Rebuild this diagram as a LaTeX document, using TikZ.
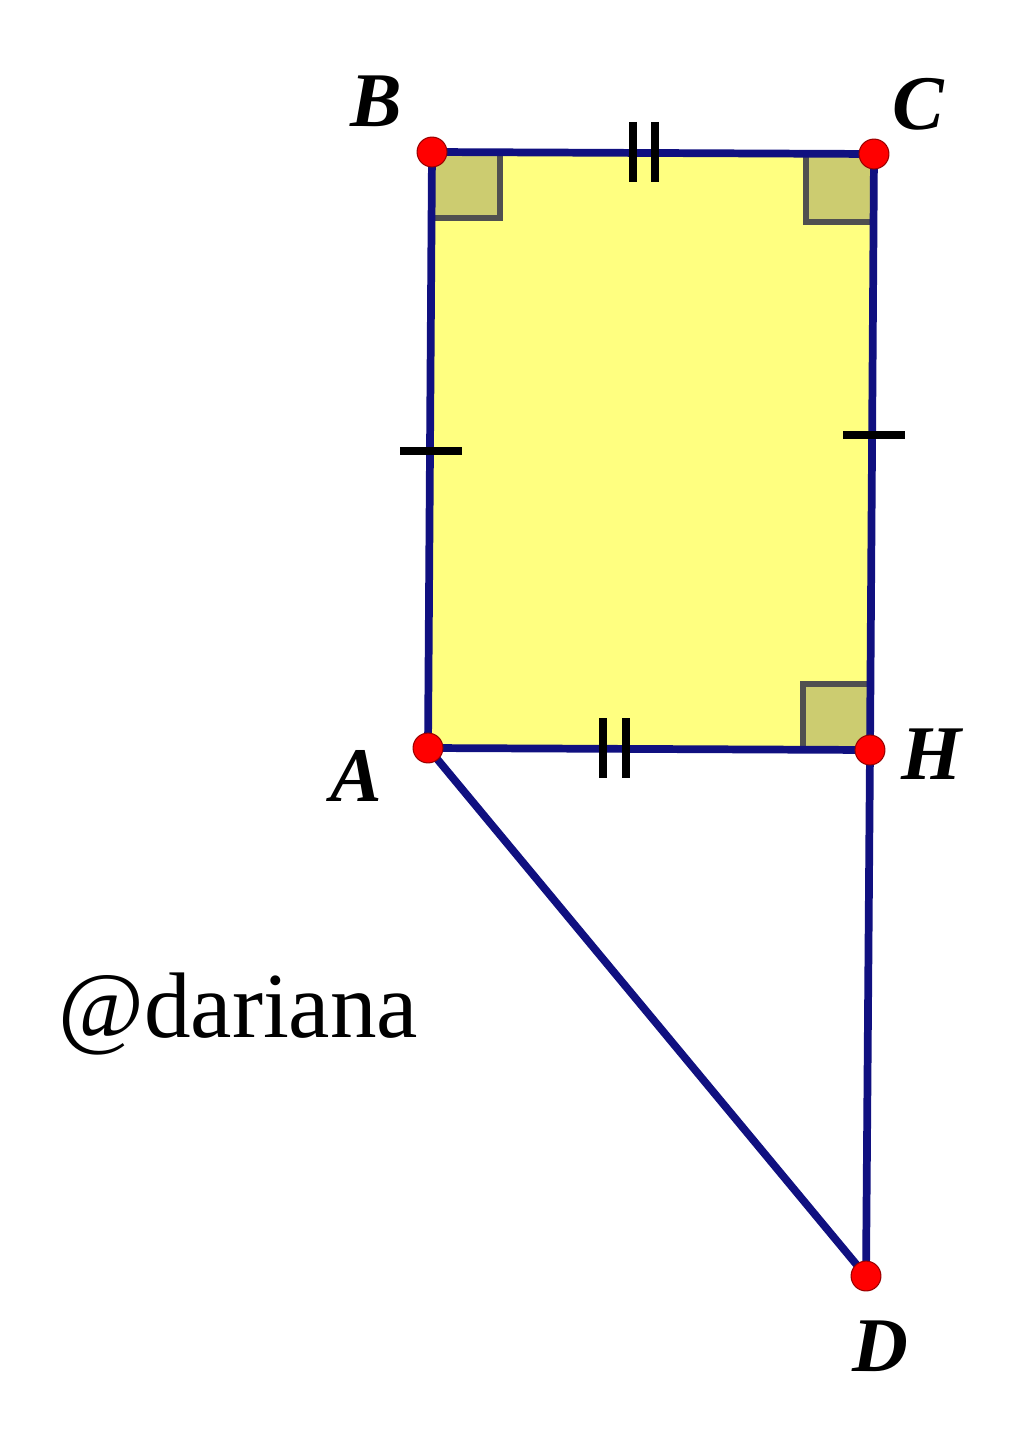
\documentclass[tikz,border=0pt]{standalone}
\usepackage{fontspec}
\setmainfont{Liberation Serif}
\begin{document}
\begin{tikzpicture}[x=0.02cm,y=-0.02cm,
  seg/.style={draw=navy,line width=4.4pt,line cap=round,line join=round},
  rmark/.style={fill=olivefill,draw=markgray,line width=3.6pt},
  tick/.style={draw=black,line width=4.4pt},
  pt/.style={circle,fill=red,draw=red!60!black,line width=0.6pt,inner sep=0pt,minimum size=17pt},
  lbl/.style={font=\fontsize{44}{44}\selectfont\bfseries\itshape,inner sep=0pt}]
\definecolor{navy}{RGB}{16,16,128}
\definecolor{yel}{RGB}{255,255,128}
\definecolor{olivefill}{RGB}{204,204,112}
\definecolor{markgray}{RGB}{80,80,80}
\useasboundingbox (0,0) rectangle (1024,1436);
\coordinate (B) at (432,152);
\coordinate (C) at (874,154);
\coordinate (A) at (428,748);
\coordinate (H) at (870,750);
\coordinate (D) at (866,1276);
\fill[yel] (B) -- (C) -- (H) -- (A) -- cycle;
\path[rmark] (432,152) -- (500,152) -- (500,218) -- (432,218);
\path[rmark] (874,154) -- (806,154) -- (806,222) -- (874,222);
\path[rmark] (870,750) -- (803,750) -- (803,684) -- (870,684);
\path[seg] (B) -- (C) -- (H) -- (D) -- (A) -- cycle;
\path[seg] (A) -- (H);
\draw[tick] (400,451) -- (462,451);
\draw[tick] (843,435) -- (905,435);
\draw[tick] (633,122) -- (633,182);
\draw[tick] (655,122) -- (655,182);
\draw[tick] (603,718) -- (603,778);
\draw[tick] (626,718) -- (626,778);
\node[pt] (pB) at (B) {};
\node[pt] (pC) at (C) {};
\node[pt] (pA) at (A) {};
\node[pt] (pH) at (H) {};
\node[pt] (pD) at (D) {};
\node[lbl] (lB) at (376,101) {B};
\node[lbl] (lC) at (918,104) {C};
\node[lbl] (lA) at (356,776) {A};
\node[lbl] (lH) at (932,754) {H};
\node[lbl] (lD) at (880,1346) {D};
\node[font=\fontsize{53}{53}\selectfont,inner sep=0pt,anchor=west] (w) at (58,1014) {@dariana};
\end{tikzpicture}
\end{document}
